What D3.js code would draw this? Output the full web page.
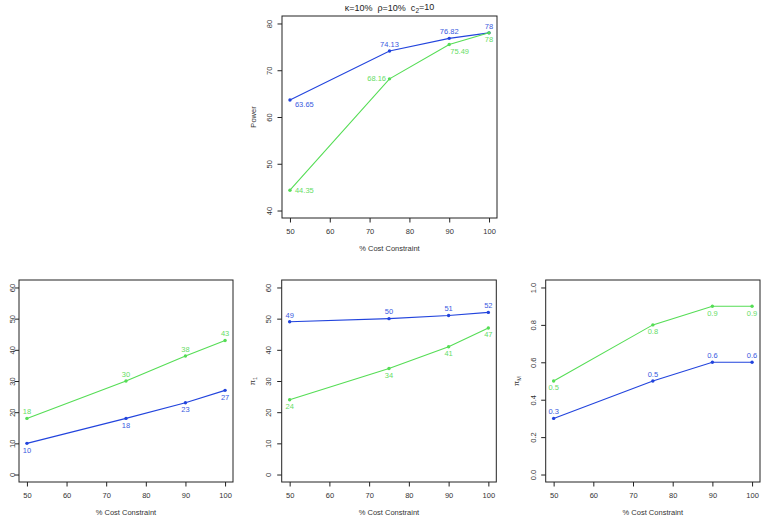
<!DOCTYPE html>
<html><head><meta charset="utf-8">
<script src="https://cdn.jsdelivr.net/npm/d3@7"></script>
<style>
html,body{margin:0;padding:0;background:#fff;}
svg{display:block;font-family:"Liberation Sans",Arial,Helvetica,sans-serif;}
text{white-space:pre;}
</style></head>
<body>
<svg id="chart" width="764" height="519"></svg>
<script>
// ---------- data ----------
const costConstraint = [50, 75, 90, 100];
const xTickValues = [50, 60, 70, 80, 90, 100];

const powerBlue  = [63.65, 74.13, 76.82, 78];
const powerGreen = [44.35, 68.16, 75.49, 78];
const powerTicks = [40, 50, 60, 70, 80];

const countBlue  = [10, 18, 23, 27];
const countGreen = [18, 30, 38, 43];
const countTicks = [0, 10, 20, 30, 40, 50, 60];

const pi1Blue  = [49, 50, 51, 52];
const pi1Green = [24, 34, 41, 47];

const piMBlue  = [0.3, 0.5, 0.6, 0.6];
const piMGreen = [0.5, 0.8, 0.9, 0.9];
const propTicks = [0, 0.2, 0.4, 0.6, 0.8, 1.0];

const titleText = "κ=10%  ρ=10%  c";
const xAxisTitle = "% Cost Constraint";

// ---------- styles ----------
const BLUE = "#2244dd", BLUE_TXT = "#3a5ae0";
const GREEN = "#55dd55", GREEN_TXT = "#66dd66";
const FONT = 7.5;

// label placements (presentation only)
const P = {
  t:  {dx: 0, dy: -6.8, anchor: "middle"},
  b:  {dx: 0, dy: 6.8, anchor: "middle"},
  r:  {dx: 5, dy: 0, anchor: "start"},
  l:  {dx: -3.5, dy: 0, anchor: "end"},
  rb: {dx: 5, dy: 4, anchor: "start"},
  rb2:{dx: 1, dy: 7, anchor: "start"}
};

const svg = d3.select("#chart");

function panel(cfg) {
  const x = d3.scaleLinear().domain([48, 102]).range([cfg.l, cfg.r]);
  const [lo, hi] = cfg.ylim, pad = (hi - lo) * 0.04;
  const y = d3.scaleLinear().domain([lo - pad, hi + pad]).range([cfg.b, cfg.t]);
  const g = svg.append("g");

  // x axis
  const xa = g.append("g").attr("transform", `translate(0,${cfg.b})`)
    .call(d3.axisBottom(x).tickValues(xTickValues).tickSize(4.5).tickSizeOuter(0).tickFormat(d3.format("d")));
  xa.select(".domain").remove();
  xa.selectAll("line").attr("stroke", "#222");
  xa.selectAll("text").attr("y", 13).attr("dy", "0.35em").attr("fill", "#333")
    .style("font-size", FONT + "px").style("font-family", null);
  xa.attr("font-family", null).attr("font-size", null);

  // y axis
  const ya = g.append("g").attr("transform", `translate(${cfg.l},0)`)
    .call(d3.axisLeft(y).tickValues(cfg.yticks).tickSize(4.5).tickSizeOuter(0).tickFormat(cfg.yfmt));
  ya.select(".domain").remove();
  ya.selectAll("line").attr("stroke", "#222");
  ya.selectAll("text").attr("x", 0).attr("dy", "0.35em").attr("text-anchor", "middle")
    .attr("transform", `translate(${-cfg.ytOff},0) rotate(-90)`)
    .attr("fill", "#333").style("font-size", FONT + "px");
  ya.attr("font-family", null).attr("font-size", null);

  // box
  g.append("rect").attr("x", cfg.l).attr("y", cfg.t)
    .attr("width", cfg.r - cfg.l).attr("height", cfg.b - cfg.t)
    .attr("fill", "none").attr("stroke", "#222").attr("stroke-width", 1);

  // x axis title
  g.append("text").attr("x", (cfg.l + cfg.r) / 2).attr("y", cfg.b + 30.5).attr("dy", "0.35em")
    .attr("text-anchor", "middle").attr("fill", "#333").style("font-size", FONT + "px").text(xAxisTitle);

  // y axis title
  if (cfg.ylab) {
    const t = g.append("text")
      .attr("transform", `translate(${cfg.l - 29},${(cfg.t + cfg.b) / 2}) rotate(-90)`)
      .attr("dy", "0.35em").attr("text-anchor", "middle").attr("fill", "#333")
      .style("font-size", FONT + "px");
    t.append("tspan").text(cfg.ylab);
    if (cfg.ysub) t.append("tspan").attr("dy", "0.35em").style("font-size", "5.5px").text(cfg.ysub);
  }

  const line = d3.line().x((d, i) => x(costConstraint[i])).y(d => y(d));
  cfg.series.forEach(s => {
    g.append("path").datum(s.values).attr("d", line)
      .attr("fill", "none").attr("stroke", s.color).attr("stroke-width", 1.1);
    g.selectAll(null).data(s.values).enter().append("circle")
      .attr("cx", (d, i) => x(costConstraint[i])).attr("cy", d => y(d))
      .attr("r", 1.7).attr("fill", s.color);
    g.selectAll(null).data(s.values).enter().append("text")
      .attr("x", (d, i) => x(costConstraint[i]) + P[s.pos[i]].dx)
      .attr("y", (d, i) => y(d) + P[s.pos[i]].dy)
      .attr("dy", "0.35em")
      .attr("text-anchor", (d, i) => P[s.pos[i]].anchor)
      .attr("fill", s.textColor).style("font-size", FONT + "px")
      .text(d => cfg.vfmt(d));
  });
  return {x, y};
}

const fmtPlain = d => String(d);
const fmtOne = d3.format(".1f");

// top panel
panel({
  l: 282, r: 497, t: 16, b: 218, ylim: [40, 80], yticks: powerTicks, yfmt: d3.format("d"),
  ytOff: 13, ylab: "Power", vfmt: fmtPlain,
  series: [
    {values: powerBlue, color: BLUE, textColor: BLUE_TXT, pos: ["rb", "t", "t", "t"]},
    {values: powerGreen, color: GREEN, textColor: GREEN_TXT, pos: ["r", "l", "rb2", "b"]}
  ]
});

// title
const title = svg.append("text").attr("x", 389.5).attr("y", 7.5).attr("dy", "0.35em")
  .attr("text-anchor", "middle").attr("fill", "#222").style("font-size", "9px");
title.append("tspan").text(titleText);
title.append("tspan").attr("dy", "0.3em").style("font-size", "6.5px").text("2");
title.append("tspan").attr("dy", "-0.3em").text("=10");

// bottom left
panel({
  l: 19, r: 233, t: 280, b: 482, ylim: [0, 60], yticks: countTicks, yfmt: d3.format("d"),
  ytOff: 6.5, ylab: null, vfmt: fmtPlain,
  series: [
    {values: countGreen, color: GREEN, textColor: GREEN_TXT, pos: ["t", "t", "t", "t"]},
    {values: countBlue, color: BLUE, textColor: BLUE_TXT, pos: ["b", "b", "b", "b"]}
  ]
});

// bottom middle
panel({
  l: 281.7, r: 496.3, t: 280, b: 482, ylim: [0, 60], yticks: countTicks, yfmt: d3.format("d"),
  ytOff: 13, ylab: "π", ysub: "1", vfmt: fmtPlain,
  series: [
    {values: pi1Blue, color: BLUE, textColor: BLUE_TXT, pos: ["t", "t", "t", "t"]},
    {values: pi1Green, color: GREEN, textColor: GREEN_TXT, pos: ["b", "b", "b", "b"]}
  ]
});

// bottom right
panel({
  l: 545.7, r: 760, t: 280, b: 482, ylim: [0, 1], yticks: propTicks, yfmt: fmtOne,
  ytOff: 12.5, ylab: "π", ysub: "M", vfmt: fmtPlain,
  series: [
    {values: piMGreen, color: GREEN, textColor: GREEN_TXT, pos: ["b", "b", "b", "b"]},
    {values: piMBlue, color: BLUE, textColor: BLUE_TXT, pos: ["t", "t", "t", "t"]}
  ]
});
</script>
</body></html>
